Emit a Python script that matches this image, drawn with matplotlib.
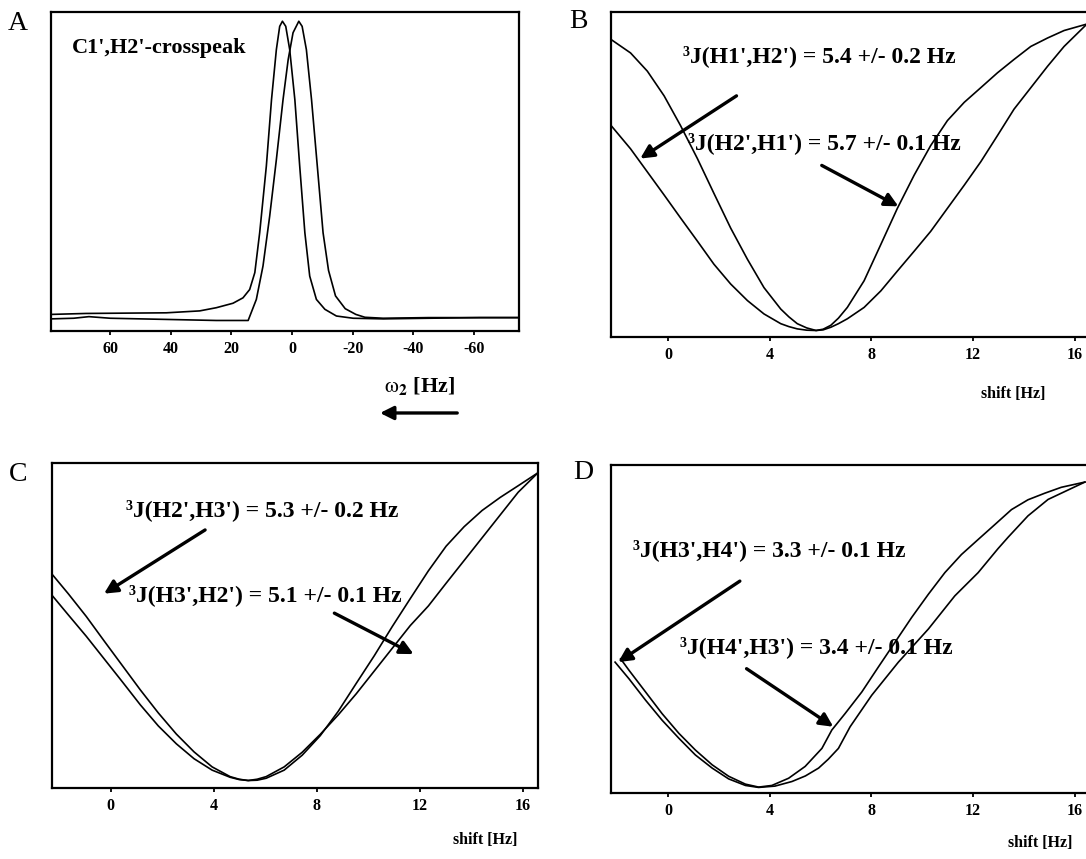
import matplotlib
matplotlib.use("Agg")
import matplotlib.pyplot as plt

plt.rcParams['font.family'] = ['Liberation Serif', 'DejaVu Serif']
plt.rcParams['mathtext.fontset'] = 'stix'
plt.rcParams['axes.unicode_minus'] = False

# ---- panel A : C1',H2' crosspeak (two components) ----
a1_hz = [79.5, 67.9, 55, 41.5, 30.5, 25.0, 19.5, 16.2, 14.0, 12.3, 10.7, 8.5, 6.8, 5.2, 4.1, 3.2,
         2.1, 0.8, -0.9, -2.5, -4.2, -5.8, -8.0, -10.8, -14.6, -20.1, -30, -45, -61.9, -74.8]
a1_y = [0.052, 0.055, 0.056, 0.057, 0.063, 0.073, 0.087, 0.104, 0.130, 0.183, 0.308, 0.517, 0.725,
        0.882, 0.955, 0.971, 0.955, 0.882, 0.725, 0.517, 0.308, 0.172, 0.099, 0.068, 0.047, 0.040,
        0.038, 0.040, 0.042, 0.042]
a2_hz = [79.5, 72, 67, 60, 50, 40, 25, 14.5, 11.8, 9.6, 7.4, 5.2, 3.0, 1.3, -0.3, -2.2, -3.3, -4.7,
         -6.4, -8.3, -10.2, -12.0, -14.3, -17.5, -21.0, -24.0, -30, -45, -61.9, -74.8]
a2_y = [0.038, 0.040, 0.045, 0.040, 0.038, 0.036, 0.033, 0.033, 0.099, 0.204, 0.360, 0.537, 0.725,
        0.851, 0.935, 0.971, 0.955, 0.882, 0.725, 0.517, 0.308, 0.190, 0.110, 0.070, 0.052, 0.043,
        0.040, 0.042, 0.042, 0.042]
a_ticks = [60, 40, 20, 0, -20, -40, -60]

# ---- panel B : H1'/H2' ----
b_hz = [-2.24, -1.48, -0.82, -0.16, 0.49, 1.15, 1.80, 2.46, 3.12, 3.77, 4.43, 4.75, 5.08, 5.45, 5.82,
        6.10, 6.40, 6.70, 7.05, 7.71, 8.37, 9.02, 9.68, 10.33, 10.99, 11.65, 12.30, 12.96, 13.61,
        14.27, 14.93, 15.58, 16.48]
b_narrow = [0.915, 0.874, 0.818, 0.742, 0.650, 0.549, 0.442, 0.335, 0.239, 0.152, 0.086, 0.062, 0.041,
            0.028, 0.020, 0.024, 0.036, 0.058, 0.091, 0.173, 0.285, 0.396, 0.498, 0.589, 0.666,
            0.722, 0.767, 0.813, 0.854, 0.894, 0.920, 0.943, 0.963]
b_broad = [0.650, 0.579, 0.508, 0.437, 0.366, 0.295, 0.224, 0.163, 0.112, 0.071, 0.041, 0.032, 0.025,
           0.021, 0.020, 0.022, 0.030, 0.041, 0.056, 0.091, 0.142, 0.203, 0.264, 0.325, 0.396,
           0.467, 0.539, 0.620, 0.701, 0.767, 0.833, 0.894, 0.963]

# ---- panel C : H2'/H3' ----
c_hz = [-2.28, -1.65, -0.95, -0.25, 0.45, 1.15, 1.85, 2.55, 3.24, 3.94, 4.64, 4.99, 5.34, 5.69, 6.04,
        6.74, 7.44, 8.14, 8.84, 9.54, 10.24, 10.94, 11.64, 12.34, 13.03, 13.73, 14.43, 15.13,
        15.83, 16.60]
c_narrow = [0.658, 0.598, 0.528, 0.452, 0.377, 0.302, 0.231, 0.166, 0.111, 0.065, 0.035, 0.027, 0.023,
            0.024, 0.030, 0.055, 0.101, 0.161, 0.236, 0.322, 0.407, 0.497, 0.583, 0.668, 0.744,
            0.804, 0.854, 0.894, 0.930, 0.970]
c_broad = [0.593, 0.533, 0.467, 0.397, 0.327, 0.256, 0.191, 0.136, 0.090, 0.055, 0.033, 0.026, 0.023,
           0.027, 0.035, 0.065, 0.110, 0.165, 0.225, 0.290, 0.360, 0.430, 0.500, 0.560, 0.630,
           0.700, 0.770, 0.840, 0.910, 0.970]

# ---- panel D : H3'/H4' ----
d1_hz = [-1.87, -1.54, -0.89, -0.24, 0.42, 1.07, 1.73, 2.38, 3.04, 3.56, 4.08, 4.74, 5.39, 6.05, 6.44,
         6.96, 7.62, 8.27, 8.93, 9.58, 10.24, 10.89, 11.54, 12.20, 12.85, 13.51, 14.16, 14.82,
         15.47, 16.40]
d1_y = [0.409, 0.374, 0.308, 0.242, 0.182, 0.131, 0.086, 0.051, 0.027, 0.018, 0.023, 0.045, 0.081,
        0.136, 0.192, 0.242, 0.308, 0.384, 0.460, 0.535, 0.606, 0.672, 0.727, 0.773, 0.818, 0.864,
        0.894, 0.914, 0.932, 0.948]
d2_hz = [-2.09, -1.54, -0.89, -0.24, 0.42, 1.07, 1.73, 2.38, 3.04, 3.56, 4.20, 4.87, 5.40, 5.92, 6.30,
         6.70, 7.16, 8.01, 9.06, 10.24, 11.28, 12.20, 12.98, 13.38, 14.16, 14.95, 16.40]
d2_y = [0.399, 0.348, 0.283, 0.222, 0.167, 0.116, 0.076, 0.043, 0.023, 0.017, 0.021, 0.035, 0.052,
        0.076, 0.103, 0.136, 0.202, 0.298, 0.399, 0.500, 0.601, 0.672, 0.745, 0.780, 0.845, 0.895,
        0.948]

shift_ticks = [0, 4, 8, 12, 16]

W, H = 1086, 859
fig = plt.figure(figsize=(W / 100, H / 100), dpi=100)


def box(l, t, r, b):
    return [l / W, 1 - b / H, (r - l) / W, (b - t) / H]


def style(ax, ticks):
    for s in ax.spines.values():
        s.set_linewidth(1.6)
    ax.set_yticks([])
    ax.set_xticks(ticks)
    ax.tick_params(axis='x', direction='out', length=3, width=1.3, pad=4)
    for lab in ax.get_xticklabels():
        lab.set_fontweight('bold')
        lab.set_fontsize(11.5)
    ax.set_ylim(0, 1)


tfont = dict(fontsize=17, fontweight='bold')
arrow = dict(arrowstyle='-|>', lw=2.4, color='k', mutation_scale=20, shrinkA=0, shrinkB=0)
line = dict(color='k', lw=1.2, solid_joinstyle='round')

# A
axA = fig.add_axes(box(51, 12, 519, 331))
axA.plot(a1_hz, a1_y, **line)
axA.plot(a2_hz, a2_y, **line)
axA.set_xlim(79.5, -74.8)
style(axA, a_ticks)
axA.text(0.045, 0.887, "C1',H2'-crosspeak", transform=axA.transAxes, fontsize=16,
         fontweight='bold', va='center')
axA.text(0.788, -0.172, r"$\mathrm{\omega}_{\mathbf{2}}$ [Hz]", transform=axA.transAxes,
         fontsize=16, fontweight='bold', ha='center', va='center')
axA.annotate('', xy=(0.703, -0.257), xytext=(0.868, -0.257), xycoords='axes fraction',
             textcoords='axes fraction', annotation_clip=False, arrowprops=arrow)

# B
axB = fig.add_axes(box(611, 12, 1090, 337))
axB.plot(b_hz, b_narrow, **line)
axB.plot(b_hz, b_broad, **line)
axB.set_xlim(-2.25, 16.6)
style(axB, shift_ticks)
axB.text(0.150, 0.863, "³J(H1',H2') = 5.4 +/- 0.2 Hz", transform=axB.transAxes, va='center', **tfont)
axB.text(0.161, 0.598, "³J(H2',H1') = 5.7 +/- 0.1 Hz", transform=axB.transAxes, va='center', **tfont)
axB.annotate('', xy=(0.061, 0.549), xytext=(0.262, 0.742), xycoords='axes fraction',
             textcoords='axes fraction', arrowprops=arrow)
axB.annotate('', xy=(0.60, 0.402), xytext=(0.44, 0.528), xycoords='axes fraction',
             textcoords='axes fraction', arrowprops=arrow)
axB.text(0.839, -0.175, "shift [Hz]", transform=axB.transAxes, fontsize=11.5, fontweight='bold',
         ha='center', va='center')

# C
axC = fig.add_axes(box(52, 463, 538, 788))
axC.plot(c_hz, c_narrow, **line)
axC.plot(c_hz, c_broad, **line)
axC.set_xlim(-2.28, 16.6)
style(axC, shift_ticks)
axC.text(0.152, 0.854, "³J(H2',H3') = 5.3 +/- 0.2 Hz", transform=axC.transAxes, va='center', **tfont)
axC.text(0.159, 0.593, "³J(H3',H2') = 5.1 +/- 0.1 Hz", transform=axC.transAxes, va='center', **tfont)
axC.annotate('', xy=(0.107, 0.598), xytext=(0.315, 0.794), xycoords='axes fraction',
             textcoords='axes fraction', arrowprops=arrow)
axC.annotate('', xy=(0.744, 0.412), xytext=(0.581, 0.538), xycoords='axes fraction',
             textcoords='axes fraction', arrowprops=arrow)
axC.text(0.891, -0.16, "shift [Hz]", transform=axC.transAxes, fontsize=11.5, fontweight='bold',
         ha='center', va='center')

# D
axD = fig.add_axes(box(611, 465, 1090, 793))
axD.plot(d1_hz, d1_y, **line)
axD.plot(d2_hz, d2_y, **line)
axD.set_xlim(-2.25, 16.6)
style(axD, shift_ticks)
axD.text(0.046, 0.742, "³J(H3',H4') = 3.3 +/- 0.1 Hz", transform=axD.transAxes, va='center', **tfont)
axD.text(0.144, 0.445, "³J(H4',H3') = 3.4 +/- 0.1 Hz", transform=axD.transAxes, va='center', **tfont)
axD.annotate('', xy=(0.015, 0.399), xytext=(0.269, 0.646), xycoords='axes fraction',
             textcoords='axes fraction', arrowprops=arrow)
axD.annotate('', xy=(0.464, 0.202), xytext=(0.283, 0.379), xycoords='axes fraction',
             textcoords='axes fraction', arrowprops=arrow)
axD.text(0.896, -0.152, "shift [Hz]", transform=axD.transAxes, fontsize=11.5, fontweight='bold',
         ha='center', va='center')

# panel letters
for letter, x, y in [('A', 18, 23), ('B', 578, 22), ('C', 18, 475), ('D', 583, 473)]:
    fig.text(x / W, 1 - y / H, letter, fontsize=20, ha='center', va='center')

fig.savefig('out.png', dpi=100)
